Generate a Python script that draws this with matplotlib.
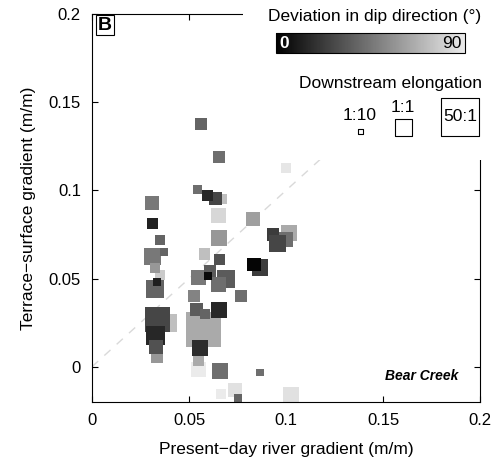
import numpy as np
import matplotlib
matplotlib.use("Agg")
import matplotlib.pyplot as plt
from matplotlib.colors import LinearSegmentedColormap

plt.rcParams['font.family'] = ['Liberation Sans', 'DejaVu Sans']

# present-day river gradient (m/m)
river_grad = [0.031, 0.031, 0.035, 0.031, 0.037, 0.035, 0.0325, 0.0325, 0.0335, 0.039,
              0.034, 0.0325, 0.0335, 0.033,
              0.056, 0.0655, 0.0546, 0.067, 0.0639, 0.0593, 0.065, 0.0655, 0.058, 0.0655,
              0.069, 0.055, 0.065, 0.061, 0.060, 0.0577, 0.0526, 0.054, 0.058, 0.0655,
              0.055, 0.055, 0.0557, 0.066, 0.0866, 0.0665, 0.0737, 0.0753, 0.1026,
              0.083, 0.077, 0.0866, 0.0835, 0.1015, 0.0995, 0.0933, 0.0954, 0.100]
# terrace-surface gradient (m/m)
terrace_grad = [0.093, 0.081, 0.072, 0.0625, 0.065, 0.052, 0.056, 0.044, 0.048, 0.025,
                0.027, 0.018, 0.0057, 0.011,
                0.1375, 0.119, 0.1006, 0.095, 0.0955, 0.0972, 0.086, 0.073, 0.064, 0.061,
                0.050, 0.0506, 0.0466, 0.0545, 0.0517, 0.021, 0.040, 0.0324, 0.030, 0.0324,
                -0.0017, 0.0034, 0.0108, -0.0023, -0.0034, -0.0153, -0.0131, -0.0176, -0.0159,
                0.084, 0.040, 0.0563, 0.058, 0.0756, 0.072, 0.075, 0.070, 0.113]
# downstream elongation (ratio)
elongation = [0.56, 0.32, 0.26, 1.0, 0.18, 0.26, 0.26, 1.21, 0.18, 1.21,
              4.6, 1.47, 0.38, 0.56,
              0.38, 0.38, 0.22, 0.26, 0.46, 0.32, 0.68, 0.83, 0.38, 0.32,
              1.21, 0.68, 0.68, 0.38, 0.18, 32, 0.38, 0.46, 0.26, 0.83,
              0.68, 0.32, 0.83, 0.83, 0.15, 0.26, 0.56, 0.18, 0.83,
              0.56, 0.38, 0.83, 0.56, 0.83, 0.68, 0.46, 1.0, 0.26]
# deviation in dip direction (degrees)
deviation = [46, 13, 38, 46, 38, 77, 58, 38, 12, 73,
             27, 15, 58, 31,
             38, 42, 42, 73, 27, 15, 82, 58, 73, 31,
             35, 46, 42, 35, 4, 65, 50, 35, 38, 15,
             90, 65, 17, 42, 42, 90, 86, 38, 86,
             61, 42, 23, 2, 65, 42, 23, 27, 88]

legend_ratios = [0.1, 1, 50]
legend_labels = ['1:10', '1:1', '50:1']
one_to_one = [0, 0.12]


def marker_area(e):
    side_px = 17 + 12 * np.log10(np.asarray(e, dtype=float))
    return (side_px * 0.72) ** 2


cmap = LinearSegmentedColormap.from_list('dev', ['black', '#ebebeb'])

fig = plt.figure(figsize=(5, 4.65), dpi=100)
ax = fig.add_axes([0.184, 0.1355, 0.776, 0.834])

ax.plot(one_to_one, one_to_one, color='#d9d9d9', lw=1, dashes=(6, 6), zorder=1)
sc = ax.scatter(river_grad, terrace_grad, s=marker_area(elongation), c=deviation,
                cmap=cmap, vmin=0, vmax=90, marker='s', linewidths=0, zorder=2)

ax.set_xlim(0, 0.2)
ax.set_ylim(-0.02, 0.2)
ax.set_xticks([0, 0.05, 0.1, 0.15, 0.2])
ax.set_xticklabels(['0', '0.05', '0.1', '0.15', '0.2'])
ax.set_yticks([0, 0.05, 0.1, 0.15, 0.2])
ax.set_yticklabels(['0', '0.05', '0.1', '0.15', '0.2'])
ax.tick_params(direction='in', top=True, right=True, length=4, width=0.8,
               labelsize=12, pad=8)
for sp in ax.spines.values():
    sp.set_linewidth(0.8)
ax.set_xlabel('Present\u2212day river gradient (m/m)', fontsize=12.5, labelpad=10)
ax.set_ylabel('Terrace\u2212surface gradient (m/m)', fontsize=12.5, labelpad=9)

ax.text(0.034, 0.972, 'B', transform=ax.transAxes, fontsize=14, fontweight='bold',
        ha='center', va='center',
        bbox=dict(boxstyle='square,pad=0.1', fc='white', ec='black', lw=0.8))
ax.text(0.943, 0.067, 'Bear Creek', transform=ax.transAxes, fontsize=10,
        fontweight='bold', style='italic', ha='right', va='center')

# legend area (white, covers top-right corner of the frame)
leg = fig.add_axes([0.486, 0.656, 0.514, 0.344])
leg.set_zorder(5)
leg.set_facecolor('white')
leg.set_xticks([])
leg.set_yticks([])
for sp in leg.spines.values():
    sp.set_visible(False)
leg.set_xlim(0, 1)
leg.set_ylim(0, 1)

leg.text(0.51, 0.894, 'Deviation in dip direction (\u00b0)', fontsize=12.5,
         ha='center', va='center')
leg.text(0.572, 0.481, 'Downstream elongation', fontsize=12.5, ha='center', va='center')

sq_x = [0.459, 0.623, 0.844]
sq_y = [0.175, 0.206, 0.269]
leg.scatter(sq_x, sq_y, s=marker_area(legend_ratios), marker='s',
            facecolor='white', edgecolor='black', linewidths=0.8)
leg.text(0.455, 0.275, legend_labels[0], fontsize=12.5, ha='center', va='center')
leg.text(0.623, 0.33, legend_labels[1], fontsize=12.5, ha='center', va='center')
leg.text(0.844, 0.269, legend_labels[2], fontsize=12.5, ha='center', va='center')

cax = fig.add_axes([0.552, 0.886, 0.378, 0.043])
cax.set_zorder(10)
cb = fig.colorbar(sc, cax=cax, orientation='horizontal')
cb.set_ticks([])
cb.outline.set_linewidth(0.8)
cax.text(0.02, 0.5, '0', transform=cax.transAxes, color='white', fontsize=12.5,
         fontweight='bold', ha='left', va='center')
cax.text(0.98, 0.5, '90', transform=cax.transAxes, color='black', fontsize=12.5,
         ha='right', va='center')

fig.savefig('out.png', dpi=100)
